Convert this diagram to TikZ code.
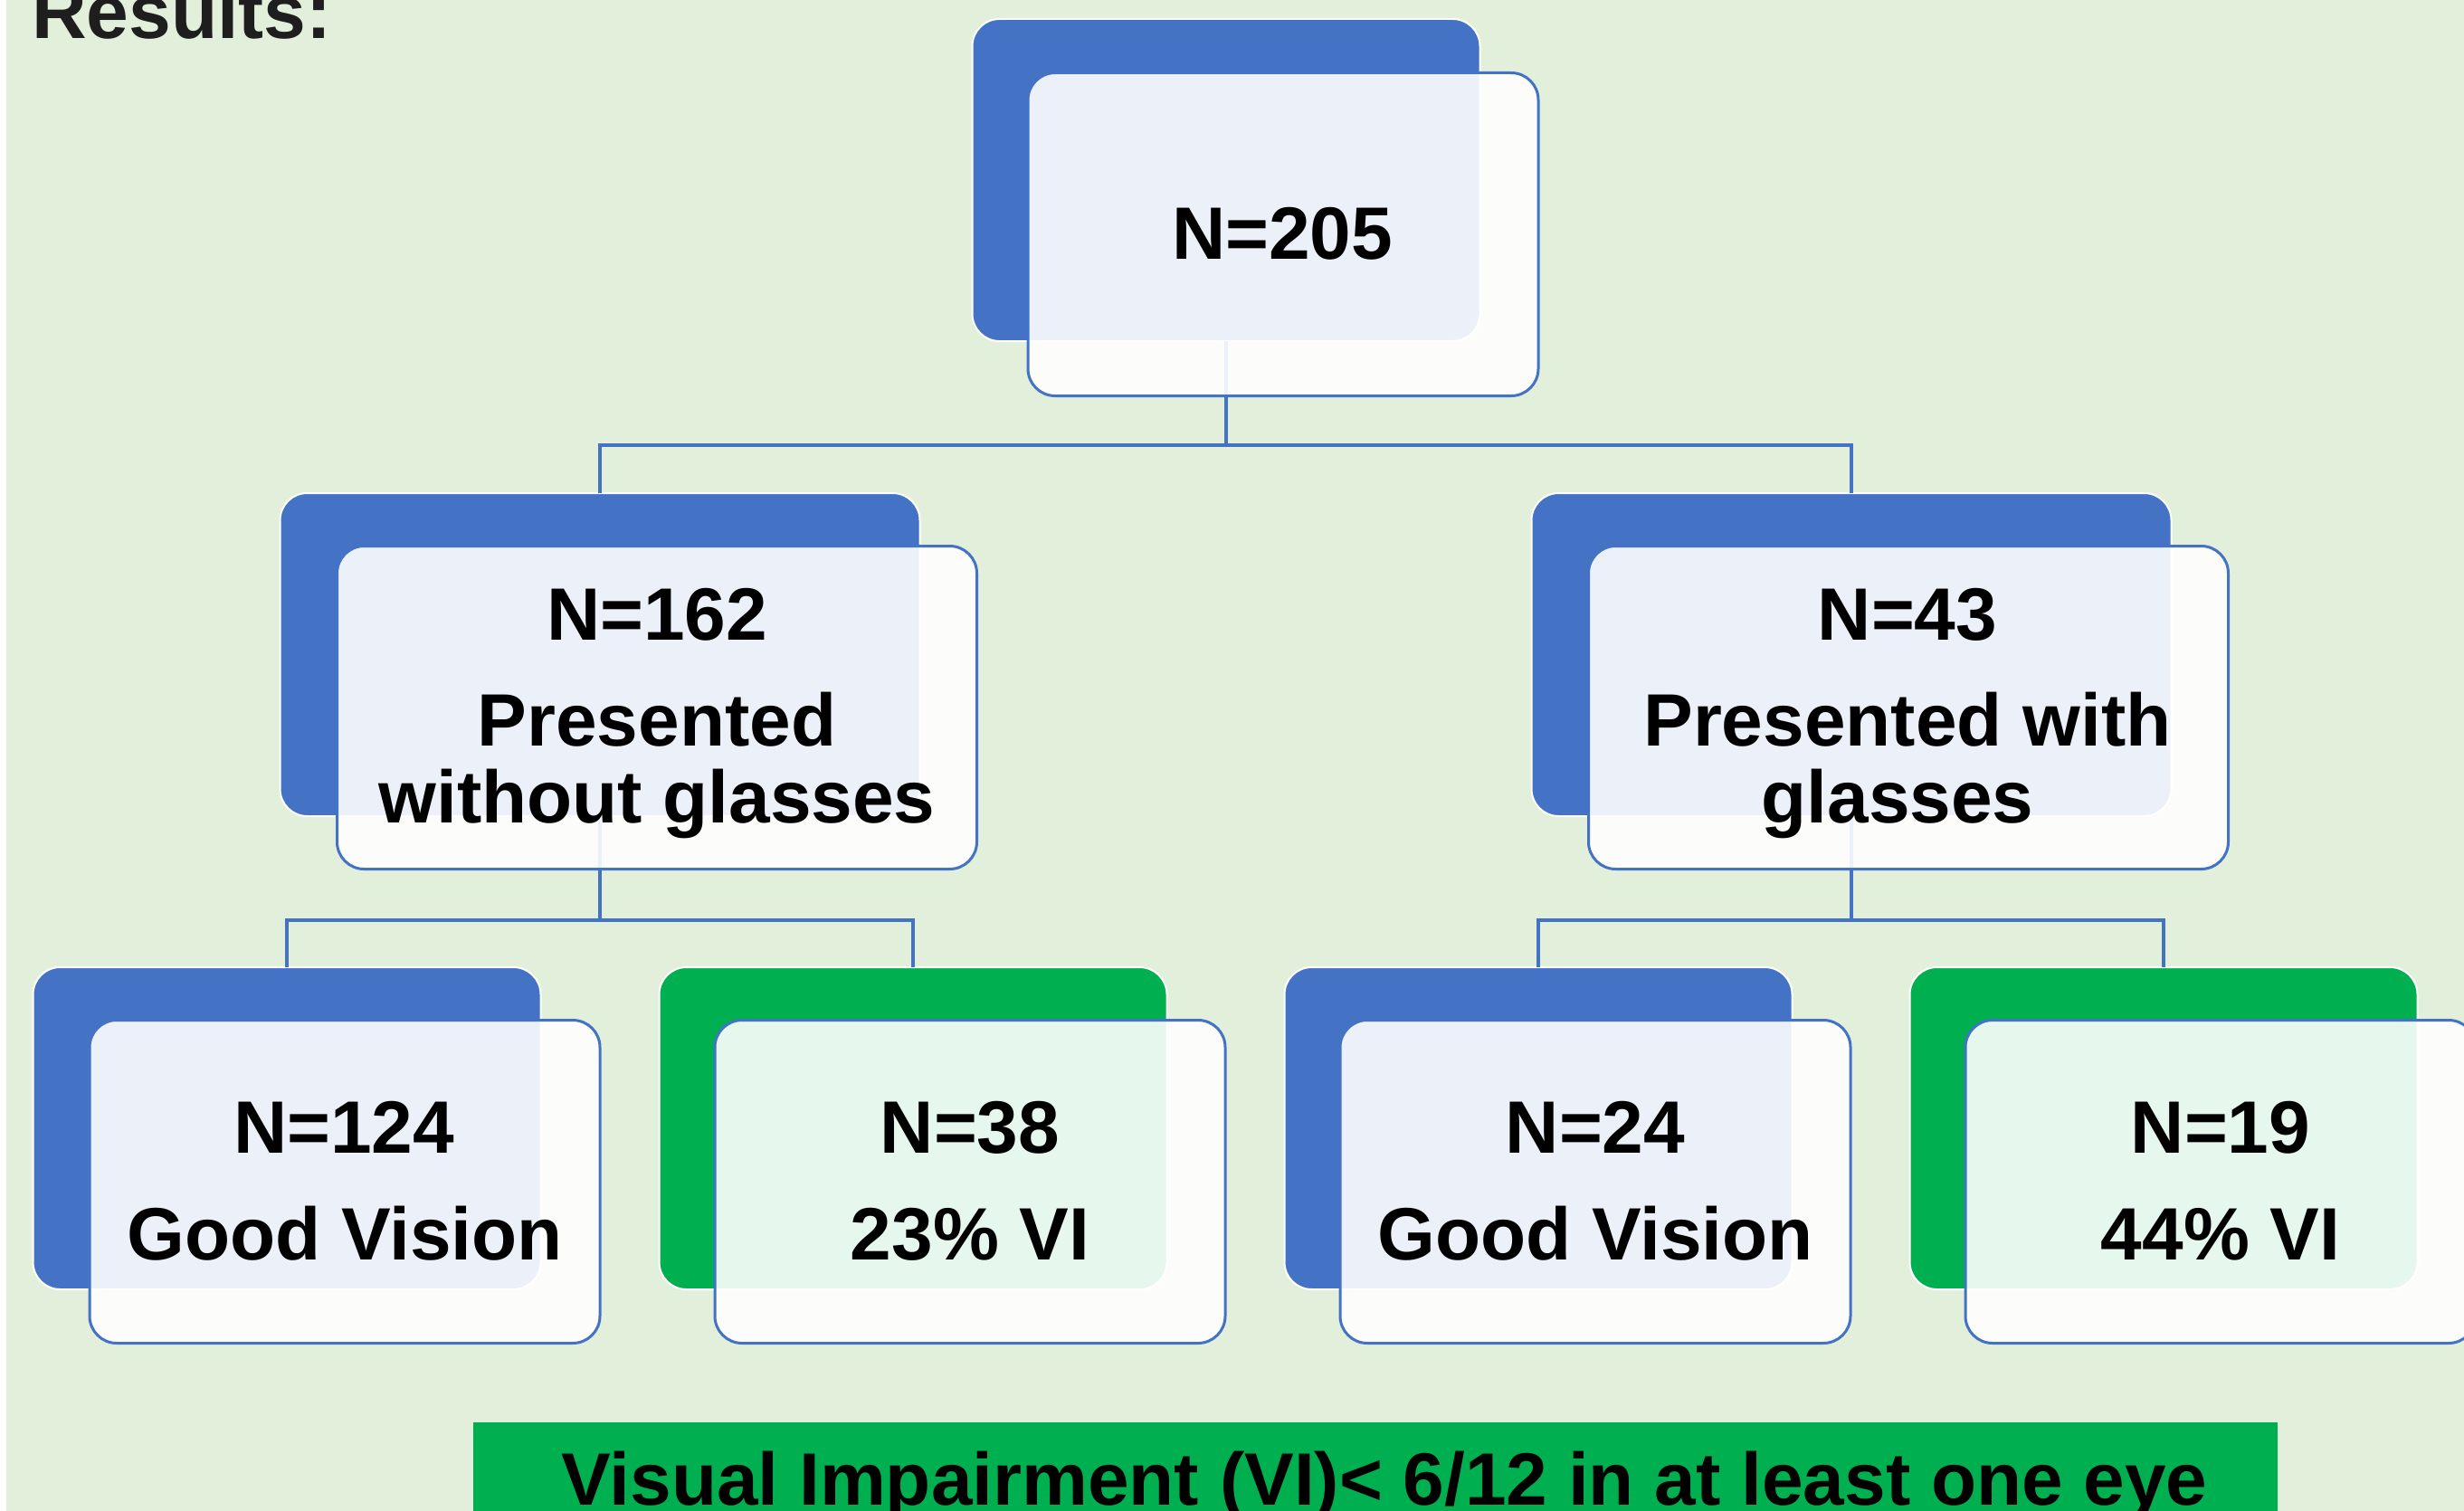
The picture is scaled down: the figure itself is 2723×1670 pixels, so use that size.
\documentclass[tikz,border=0pt]{standalone}
\usepackage{fontspec}
\setmainfont{Liberation Sans}
\definecolor{bgc}{HTML}{E2EFDA}
\definecolor{blu}{HTML}{4472C4}
\definecolor{grn}{HTML}{00B050}
\definecolor{txt}{HTML}{1E1E1E}
\begin{document}
\begin{tikzpicture}[x=1pt,y=-1pt,
  backbox/.style={draw=white, line width=2pt, rounded corners=30pt, inner sep=0pt, outer sep=0pt},
  smallbox/.style={minimum width=561pt, minimum height=356pt},
  smallfront/.style={minimum width=564pt, minimum height=357pt},
  widebox/.style={minimum width=707pt, minimum height=357pt},
  frontbox/.style={draw=blu, line width=3pt, fill=white, fill opacity=0.9, rounded corners=30pt, inner sep=0pt, outer sep=0pt},
  conn/.style={draw=blu, line width=3.5pt},
  lbl/.style={anchor=base, inner sep=0pt, text=black, font=\fontsize{82pt}{90pt}\selectfont\bfseries},
]
\useasboundingbox (0,0) rectangle (2723,1670);
\clip (0,0) rectangle (2723,1670);
\fill[white] (0,0) rectangle (2723,1670);
\fill[bgc] (7,0) rectangle (2723,1670);

\node[anchor=base west, inner sep=0pt, text=txt, font=\fontsize{84pt}{90pt}\selectfont\bfseries] (title) at (35,43) {Results:};

% back boxes
\node[backbox, smallbox, fill=blu] (b0) at (1355,199) {};
\node[backbox, widebox, fill=blu] (b1) at (663,723.5) {};
\node[backbox, widebox, fill=blu] (b2) at (2046,723.5) {};
\node[backbox, smallbox, fill=blu] (b3) at (317,1247) {};
\node[backbox, smallbox, fill=grn] (b4) at (1009,1247) {};
\node[backbox, smallbox, fill=blu] (b5) at (1700,1247) {};
\node[backbox, smallbox, fill=grn] (b6) at (2391,1247) {};

% connectors
\coordinate (j0) at (1355,492);
\coordinate (j1) at (663,1017);
\coordinate (j2) at (2046,1017);
\draw[conn] (b0.south) -- (j0);
\draw[conn] (b1.north) |- (j0) -| (b2.north);
\draw[conn] (b1.south) -- (j1);
\draw[conn] (b3.north) |- (j1) -| (b4.north);
\draw[conn] (b2.south) -- (j2);
\draw[conn] (b5.north) |- (j2) -| (b6.north);

% front boxes
\node[frontbox, smallfront] (f0) at (1418,259) {};
\node[frontbox, widebox] (f1) at (726,782) {};
\node[frontbox, widebox] (f2) at (2109,782) {};
\node[frontbox, smallfront] (f3) at (381,1306) {};
\node[frontbox, smallfront] (f4) at (1072,1306) {};
\node[frontbox, smallfront] (f5) at (1763,1306) {};
\node[frontbox, smallfront] (f6) at (2454,1306) {};

% texts
\node[lbl] (t0) at (1417,286) {N=205};
\node[lbl] (t1a) at (726,707) {N=162};
\node[lbl] (t1b) at (726,824) {Presented};
\node[lbl] (t1c) at (726,909) {without glasses};
\node[lbl] (t2a) at (2108,707) {N=43};
\node[lbl] (t2b) at (2108,824) {Presented with};
\node[lbl] (t2c) at (2097,909) {glasses};
\node[lbl] (t3a) at (380,1274) {N=124};
\node[lbl] (t3b) at (381,1392) {Good Vision};
\node[lbl] (t4a) at (1072,1274) {N=38};
\node[lbl] (t4b) at (1072,1392) {23\% VI};
\node[lbl] (t5a) at (1763,1274) {N=24};
\node[lbl] (t5b) at (1763,1392) {Good Vision};
\node[lbl] (t6a) at (2454,1274) {N=19};
\node[lbl] (t6b) at (2454,1392) {44\% VI};

% banner
\node[fill=grn, anchor=north west, inner sep=0pt, minimum width=1994pt, minimum height=140pt] (banner) at (523,1572) {};
\node[lbl] (bantext) at (1530,1663) {Visual Impairment (VI)< 6/12 in at least one eye};
\end{tikzpicture}
\end{document}
